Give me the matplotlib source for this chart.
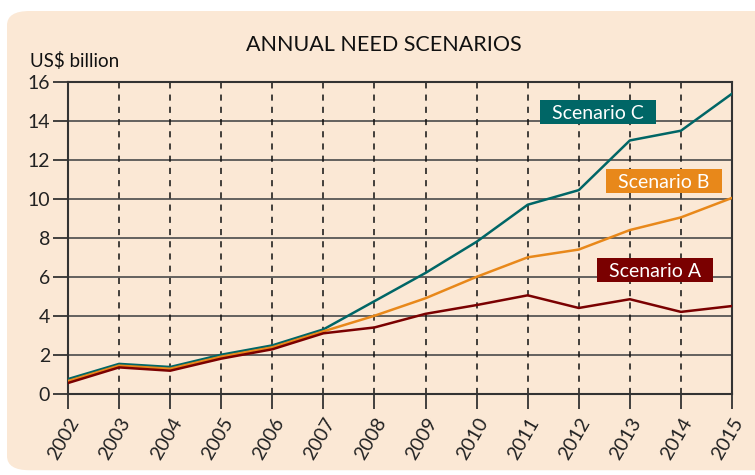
import matplotlib
matplotlib.use("Agg")
import matplotlib.pyplot as plt
from matplotlib.patches import FancyBboxPatch, Rectangle

years = list(range(2002, 2016))
scenario_a = [0.55, 1.35, 1.18, 1.8, 2.28, 3.1, 3.4, 4.1, 4.55, 5.05, 4.4, 4.85, 4.2, 4.5]
scenario_b = [0.65, 1.44, 1.28, 1.9, 2.38, 3.2, 4.0, 4.9, 6.0, 7.0, 7.4, 8.4, 9.05, 10.05]
scenario_c = [0.75, 1.53, 1.37, 2.0, 2.48, 3.3, 4.75, 6.2, 7.8, 9.7, 10.45, 13.0, 13.5, 15.4]
y_ticks = [0, 2, 4, 6, 8, 10, 12, 14, 16]

bg = "#FBE8D5"
col_a = "#7A0000"
col_b = "#E8881A"
col_c = "#006666"
font = "Lato"

fig = plt.figure(figsize=(7.55, 4.75), dpi=100)
fig.patch.set_facecolor("white")
panel = FancyBboxPatch((7 / 755, 0.01), 1.1, 1 - 11 / 475 - 0.01,
                       boxstyle="round,pad=0,rounding_size=0.03",
                       transform=fig.transFigure, facecolor=bg, edgecolor="none",
                       zorder=-10)
fig.patches.append(panel)

ax = fig.add_axes([68 / 755, 1 - 393.7 / 475, (732 - 68) / 755, (393.7 - 82) / 475])
ax.set_facecolor(bg)
ax.set_zorder(2)

for y in y_ticks[1:-1]:
    ax.axhline(y, color="#4a4a4a", lw=1.2, zorder=1)
for x in years[1:-1]:
    ax.axvline(x, color="#111111", lw=1.1, ls=(0, (4, 4)), zorder=1)

ax.plot(years, scenario_c, color=col_c, lw=1.8, zorder=3)
ax.plot(years, scenario_b, color=col_b, lw=1.8, zorder=4)
ax.plot(years, scenario_a, color=col_a, lw=1.8, zorder=5)

ax.set_xlim(2002, 2015)
ax.set_ylim(0, 16)
ax.set_xticks(years)
ax.set_yticks(y_ticks)
ax.set_xticklabels([str(y) for y in years], rotation=60, ha="right",
                   rotation_mode="anchor", fontsize=14, family=font, color="#222222")
ax.set_yticklabels([str(y) for y in y_ticks], fontsize=14, family=font, color="#222222")
ax.tick_params(axis="both", direction="out", length=11, width=1.3, color="#333333", pad=2)
ax.tick_params(axis="x", pad=4)
for s in ax.spines.values():
    s.set_color("#333333")
    s.set_linewidth(1.5)

# label boxes: 116 x 24 px
box_w = 116 / 51.08
box_h = 24 / 19.48
labels = [("Scenario C", 2012.38, 14.46, col_c),
          ("Scenario B", 2013.67, 10.92, col_b),
          ("Scenario A", 2013.49, 6.35, col_a)]
for txt, x, y, c in labels:
    ax.add_patch(Rectangle((x - box_w / 2, y - box_h / 2), box_w, box_h,
                           facecolor=c, edgecolor="none", zorder=6))
    ax.text(x, y, txt, ha="center", va="center_baseline", fontsize=14, family=font,
            color="white", zorder=7)

fig.text(384 / 755, 1 - 45 / 475, "ANNUAL NEED SCENARIOS", ha="center", va="center",
         fontsize=15.5, family=font, color="#111111")
fig.text(30 / 755, 1 - 61 / 475, "US$ billion", ha="left", va="center",
         fontsize=13.5, family=font, color="#111111")

fig.savefig("out.png", dpi=100, facecolor=fig.get_facecolor())
